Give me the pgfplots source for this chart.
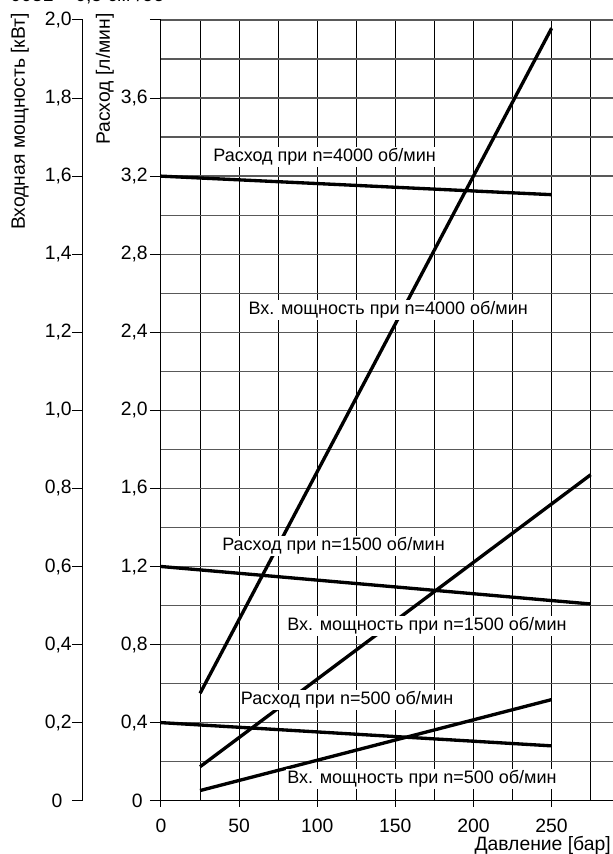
\documentclass[border=0pt]{standalone}
\usepackage{fontspec}
\setmainfont{Liberation Sans}
\usepackage{pgfplots}
\pgfplotsset{compat=1.18}

% 1px = 0.75pt; main axis origin at px (161, 800.7)
\newcommand{\tickfont}{\fontsize{14.5}{17}\selectfont}
\newcommand{\labfont}{\fontsize{13.5}{16}\selectfont}

\begin{document}
\begin{tikzpicture}
% flow axis with grid
\begin{axis}[
  at={(0pt,0pt)}, anchor=south west,
  scale only axis, width=339.84pt, height=585.525pt,
  xmin=0, xmax=290, ymin=0, ymax=4,
  axis x line*=bottom, axis y line*=left,
  xtick={0,50,100,150,200,250},
  xticklabels={0,50,100,150,200,250},
  minor xtick={25,75,125,175,225,275},
  ytick={0,0.4,0.8,1.2,1.6,2.0,2.4,2.8,3.2,3.6,4.0},
  yticklabels={{0\kern3.75pt},{0,4},{0,8},{1,2},{1,6},{2,0},{2,4},{2,8},{3,2},{3,6},{}},
  minor ytick={0.2,0.6,1.0,1.4,1.8,2.2,2.6,3.0,3.4,3.8},
  grid=both,
  major x grid style={black, line width=0.75pt},
  minor x grid style={black, line width=0.75pt},
  major y grid style={black!65, line width=1pt},
  minor y grid style={black!65, line width=1pt},
  tick align=outside,
  major tick length=8.25pt, minor tick length=0pt,
  x tick style={/pgfplots/major tick length=4.5pt},
  tick style={black, line width=0.75pt},
  axis line style={black, line width=0.75pt},
  ticklabel style={font=\tickfont},
  xticklabel style={inner sep=0pt, yshift=-5.5pt},
  yticklabel style={inner sep=0pt, xshift=-1.5pt},
]
% Расход (flow) lines
\addplot[black, line width=2.5pt] coordinates {(0,3.2) (250,3.105)};
\addplot[black, line width=2.5pt] coordinates {(0,1.2) (275,1.008)};
\addplot[black, line width=2.5pt] coordinates {(0,0.4) (250,0.281)};
\end{axis}

% input power axis
\begin{axis}[
  at={(-58.5pt,0pt)}, anchor=south west,
  scale only axis, width=398.34pt, height=585.525pt,
  xmin=-49.92, xmax=290, ymin=0, ymax=2,
  hide x axis, axis y line*=left,
  ytick={0,0.2,0.4,0.6,0.8,1.0,1.2,1.4,1.6,1.8,2.0},
  yticklabels={{0\kern7pt},{0,2},{0,4},{0,6},{0,8},{1,0},{1,2},{1,4},{1,6},{1,8},{2,0}},
  tick align=outside, major tick length=8.25pt,
  tick style={black, line width=0.75pt},
  axis line style={black, line width=0.75pt},
  ticklabel style={font=\tickfont},
  yticklabel style={inner sep=0pt},
]
\addplot[black, line width=2.5pt] coordinates {(25,0.275) (250,1.979)};
\addplot[black, line width=2.5pt] coordinates {(25,0.087) (275,0.835)};
\addplot[black, line width=2.5pt] coordinates {(25,0.026) (250,0.259)};

\begin{scope}[every node/.style={fill=white, inner sep=1pt, anchor=west, font=\labfont}]
\node at (axis cs:32.5,1.649) {Расход при n=4000 об/мин};
\node at (axis cs:55,1.257) {Вх. мощность при n=4000 об/мин};
\node at (axis cs:38.2,0.652) {Расход при n=1500 об/мин};
\node at (axis cs:79.8,0.4475) {Вх. мощность при n=1500 об/мин};
\node at (axis cs:50.1,0.258) {Расход при n=500 об/мин};
\node at (axis cs:79.8,0.0556) {Вх. мощность при n=500 об/мин};
\end{scope}
\end{axis}

\node[rotate=90, anchor=base west, font=\tickfont, inner sep=0pt] at (-102pt,428pt) {Входная мощность [кВт]};
\node[rotate=90, anchor=base west, font=\tickfont, inner sep=0pt] at (-38.25pt,491.8pt) {Расход [л/мин]};
\node[anchor=base east, font=\tickfont, inner sep=0pt] at (337.5pt,-37pt) {Давление [бар]};
\node[anchor=base west, font=\tickfont, inner sep=0pt] at (-113.25pt,599.3pt) {003L = 0,5 см³/об};

\pgfresetboundingbox
\useasboundingbox (-120.75pt,-39.975pt) rectangle (339pt,600.525pt);
\end{tikzpicture}
\end{document}
